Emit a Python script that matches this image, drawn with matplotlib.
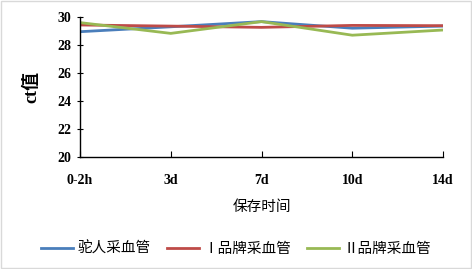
import matplotlib.pyplot as plt
from matplotlib.patches import Rectangle

plt.rcParams['font.family'] = ['Liberation Serif', 'Noto Sans CJK SC']

# 数据
categories = ["0-2h", "3d", "7d", "10d", "14d"]
tuoren = [28.95, 29.3, 29.67, 29.2, 29.35]
brand_1 = [29.43, 29.35, 29.26, 29.4, 29.38]
brand_2 = [29.6, 28.83, 29.67, 28.7, 29.07]
labels = ["驼人采血管", "Ⅰ品牌采血管", "Ⅱ品牌采血管"]
colors = ["#4a7ebb", "#be4b48", "#98b954"]

fig = plt.figure(figsize=(4.72, 2.69), dpi=100)
ax = fig.add_axes([0.1695, 0.4164, 0.7691, 0.5204])

x = list(range(len(categories)))
for vals, lab, c in zip([tuoren, brand_1, brand_2], labels, colors):
    ax.plot(x, vals, color=c, linewidth=2.0, label=lab)

ax.set_xlim(0, len(categories) - 1)
ax.set_ylim(20, 30)
ax.set_yticks(range(20, 31, 2))
ax.set_xticks(x)
ax.set_xticklabels(categories, fontweight="bold", fontsize=10)
for t in ax.get_yticklabels():
    t.set_fontweight("bold")
    t.set_fontsize(10)

for s in ["top", "right"]:
    ax.spines[s].set_visible(False)
ax.spines["left"].set_linewidth(1.0)
ax.spines["bottom"].set_linewidth(1.0)
ax.tick_params(axis="x", direction="in", length=4, pad=12)
ax.tick_params(axis="y", direction="inout", length=5, pad=4)

ax.set_ylabel("ct值", fontsize=13, fontweight="bold", labelpad=12)
ax.set_xlabel("保存时间", fontsize=10.5, labelpad=10)

fig.legend(loc="lower center", bbox_to_anchor=(0.5, 0.0), ncol=3,
           frameon=False, fontsize=10.5, handlelength=2.2, columnspacing=1.1,
           handletextpad=0.3)

fig.patches.append(Rectangle((0.002, 0.004), 0.996, 0.992, transform=fig.transFigure,
                             fill=False, edgecolor="#d9d9d9", linewidth=1.0))

fig.savefig("out.png", dpi=100)
